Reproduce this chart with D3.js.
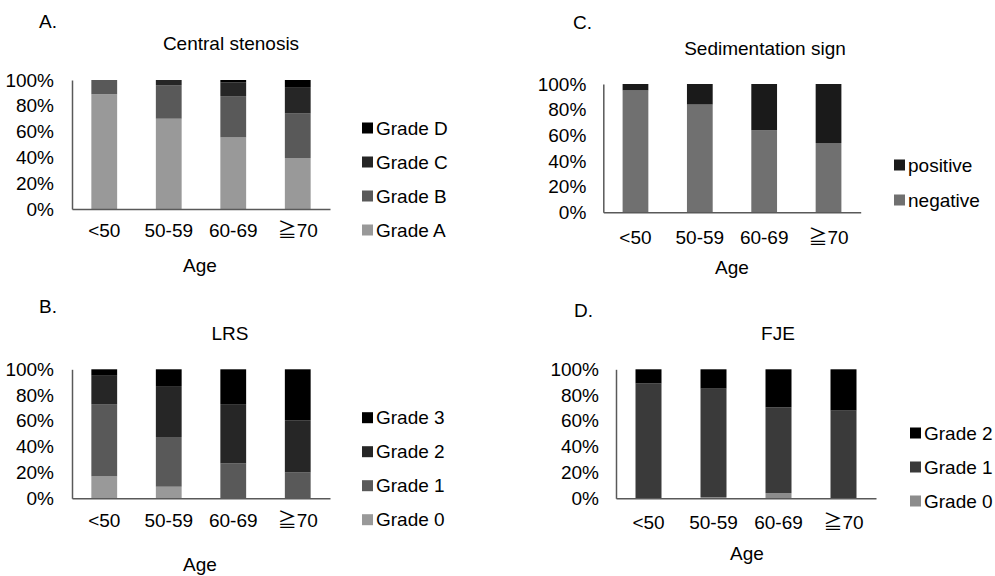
<!DOCTYPE html>
<html>
<head>
<meta charset="utf-8">
<script src="https://cdn.jsdelivr.net/npm/d3@7"></script>
<style>
  body { margin: 0; background: #fff; }
  svg text { font-family: "Liberation Sans", Arial, "Noto Sans CJK JP", sans-serif; fill: #000; }
</style>
</head>
<body>
<div id="chart"></div>
<script>
// age groups shared by all four panels
var ages = ["<50", "50-59", "60-69", "\u226770"];
var yTicks = [0, 20, 40, 60, 80, 100];

// A. central stenosis (% per age group)
var stenosisGrades = ["Grade A", "Grade B", "Grade C", "Grade D"];
var stenosisA = [89, 70, 55.5, 39.5];
var stenosisB = [11, 26, 32, 34.5];
var stenosisC = [0, 4, 10.5, 20.5];
var stenosisD = [0, 0, 2, 5.5];

// B. LRS
var lrsGrades = ["Grade 0", "Grade 1", "Grade 2", "Grade 3"];
var lrs0 = [17, 9, 0, 0];
var lrs1 = [56, 38.5, 27, 20];
var lrs2 = [22, 39.5, 46, 40.5];
var lrs3 = [5, 13, 27, 39.5];

// C. sedimentation sign
var sedLabels = ["negative", "positive"];
var sedNegative = [95, 84, 64, 54];
var sedPositive = [5, 16, 36, 46];

// D. FJE
var fjeGrades = ["Grade 0", "Grade 1", "Grade 2"];
var fje0 = [0, 1, 4, 0];
var fje1 = [89, 84, 66.5, 68];
var fje2 = [11, 15, 29.5, 32];

var FONT = "19px";

var svg = d3.select("#chart").append("svg")
  .attr("width", 995)
  .attr("height", 576);

var panels = [
  { letter: "A.", title: "Central stenosis", keys: stenosisGrades,
    series: [stenosisA, stenosisB, stenosisC, stenosisD],
    colors: ["#999999", "#595959", "#262626", "#000000"],
    x0: 72, x1: 330, y0: 80, y1: 209, pad: 15, tpad: 18,
    letterPos: [39, 21], titlePos: [231, 43], agePos: [200, 265],
    legX: 362, legY: 230, legStep: 34 },
  { letter: "B.", title: "LRS", keys: lrsGrades,
    series: [lrs0, lrs1, lrs2, lrs3],
    colors: ["#999999", "#595959", "#262626", "#000000"],
    x0: 72, x1: 330, y0: 369.3, y1: 498.3, pad: 15, tpad: 18,
    letterPos: [39, 306], titlePos: [230, 333], agePos: [200, 564],
    legX: 362, legY: 519.7, legStep: 34 },
  { letter: "C.", title: "Sedimentation sign", keys: sedLabels,
    series: [sedNegative, sedPositive],
    colors: ["#707070", "#1a1a1a"],
    x0: 603.3, x1: 860.7, y0: 84, y1: 212.3, pad: 18, tpad: 17,
    letterPos: [573, 22], titlePos: [765, 48], agePos: [732, 267],
    legX: 894, legY: 200, legStep: 35 },
  { letter: "D.", title: "FJE", keys: fjeGrades,
    series: [fje0, fje1, fje2],
    colors: ["#8c8c8c", "#3a3a3a", "#000000"],
    x0: 616, x1: 876, y0: 369.3, y1: 498.3, pad: 17, tpad: 17,
    letterPos: [574, 310], titlePos: [778, 333], agePos: [747, 553],
    legX: 910, legY: 501, legStep: 34 }
];

panels.forEach(function(p) {
  // build rows for d3.stack
  var rows = ages.map(function(a, i) {
    var r = { age: a };
    p.keys.forEach(function(k, j) { r[k] = p.series[j][i]; });
    return r;
  });
  var stacked = d3.stack().keys(p.keys)(rows);

  var x = d3.scaleBand().domain(ages).range([p.x0, p.x1]).paddingInner(0.6).paddingOuter(0.3);
  var y = d3.scaleLinear().domain([0, 100]).range([p.y1, p.y0]);
  var color = d3.scaleOrdinal().domain(p.keys).range(p.colors);

  var g = svg.append("g");

  // bars
  g.selectAll("g.layer")
    .data(stacked)
    .enter().append("g")
    .attr("fill", function(d) { return color(d.key); })
    .selectAll("rect")
    .data(function(d) { return d; })
    .enter().append("rect")
    .attr("x", function(d) { return x(d.data.age); })
    .attr("width", x.bandwidth())
    .attr("y", function(d) { return y(d[1]); })
    .attr("height", function(d) { return y(d[0]) - y(d[1]); });

  // y axis
  var ya = g.append("g")
    .attr("transform", "translate(" + p.x0 + ",0)")
    .call(d3.axisLeft(y).tickValues(yTicks).tickSize(0).tickSizeOuter(0).tickPadding(p.tpad)
      .tickFormat(function(d) { return d + "%"; }));
  ya.select(".domain").attr("stroke", "#595959").attr("stroke-width", 1.5);
  ya.selectAll("text").style("font-size", FONT).attr("fill", "#000");

  // x axis
  var xa = g.append("g")
    .attr("transform", "translate(0," + p.y1 + ")")
    .call(d3.axisBottom(x).tickSize(0).tickSizeOuter(0).tickPadding(p.pad));
  xa.select(".domain").attr("stroke", "#595959").attr("stroke-width", 1.5);
  xa.selectAll("text").style("font-size", FONT).attr("fill", "#000");

  // panel letter, title, axis label
  g.append("text")
    .attr("x", p.letterPos[0]).attr("y", p.letterPos[1])
    .attr("dy", "0.35em")
    .style("font-size", FONT)
    .text(p.letter);
  g.append("text")
    .attr("x", p.titlePos[0]).attr("y", p.titlePos[1])
    .attr("dy", "0.35em")
    .attr("text-anchor", "middle")
    .style("font-size", FONT)
    .text(p.title);
  g.append("text")
    .attr("x", p.agePos[0]).attr("y", p.agePos[1])
    .attr("dy", "0.35em")
    .attr("text-anchor", "middle")
    .style("font-size", FONT)
    .text("Age");

  // legend, first series at the bottom
  var leg = g.selectAll("g.leg")
    .data(p.keys)
    .enter().append("g")
    .attr("transform", function(d, i) { return "translate(" + p.legX + "," + (p.legY - i * p.legStep) + ")"; });
  leg.append("rect")
    .attr("x", 0).attr("y", -5.5)
    .attr("width", 11).attr("height", 11)
    .attr("fill", function(d) { return color(d); });
  leg.append("text")
    .attr("x", 14).attr("dy", "0.35em")
    .style("font-size", FONT)
    .text(function(d) { return d; });
});
</script>
</body>
</html>
